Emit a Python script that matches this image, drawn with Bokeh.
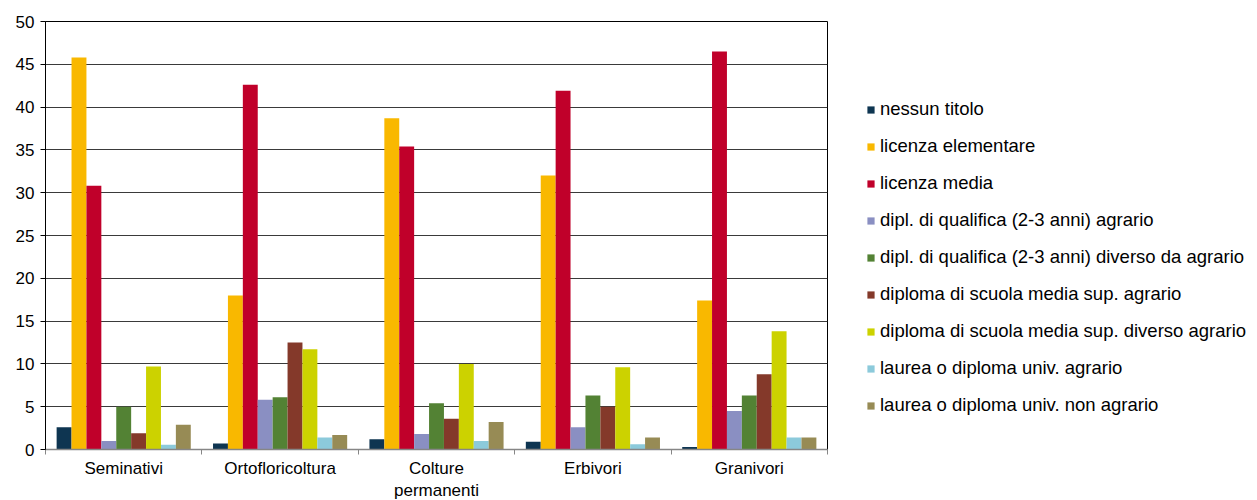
from bokeh.plotting import figure
from bokeh.models import ColumnDataSource, Legend, LegendItem, FixedTicker, Range1d
from bokeh.embed import file_html
from bokeh.resources import INLINE

categories = ["Seminativi", "Ortofloricoltura", "Colture\npermanenti", "Erbivori", "Granivori"]
series_names = [
    "nessun titolo",
    "licenza elementare",
    "licenza media",
    "dipl. di qualifica (2-3 anni) agrario",
    "dipl. di qualifica (2-3 anni) diverso da agrario",
    "diploma di scuola media sup. agrario",
    "diploma di scuola media sup. diverso agrario",
    "laurea o diploma univ. agrario",
    "laurea o diploma univ. non agrario",
]
nessun_titolo = [2.6, 0.7, 1.2, 0.9, 0.3]
licenza_elementare = [45.8, 18.0, 38.7, 32.0, 17.4]
licenza_media = [30.8, 42.6, 35.4, 41.9, 46.5]
dipl_qual_agrario = [1.0, 5.8, 1.8, 2.6, 4.5]
dipl_qual_diverso = [5.0, 6.1, 5.4, 6.3, 6.3]
dipl_sup_agrario = [1.9, 12.5, 3.6, 5.0, 8.8]
dipl_sup_diverso = [9.7, 11.7, 10.0, 9.6, 13.8]
laurea_agrario = [0.55, 1.4, 1.0, 0.6, 1.4]
laurea_non_agrario = [2.9, 1.7, 3.2, 1.4, 1.4]
values = [nessun_titolo, licenza_elementare, licenza_media, dipl_qual_agrario,
          dipl_qual_diverso, dipl_sup_agrario, dipl_sup_diverso, laurea_agrario,
          laurea_non_agrario]
colors = ["#0E3551", "#F9B800", "#C0002A", "#8A8FC2", "#538234",
          "#84392A", "#CCD200", "#8CCADB", "#978B55"]
y_ticks = [0, 5, 10, 15, 20, 25, 30, 35, 40, 45, 50]

FONT = "Liberation Sans"
n_cat = len(categories)
n_ser = len(series_names)
bar_w = 0.0953

p = figure(frame_width=782, frame_height=428, output_backend="svg", toolbar_location=None,
           x_range=Range1d(0, n_cat), y_range=Range1d(0, 50),
           min_border_left=45, min_border_right=10, min_border_top=21,
           min_border_bottom=51)
p.outline_line_color = "#000000"
p.outline_line_width = 1

items = []
for j in range(n_ser):
    xs = [i + 0.5 + (j - (n_ser - 1) / 2) * bar_w for i in range(n_cat)]
    src = ColumnDataSource(dict(x=xs, top=values[j]))
    r = p.vbar(x="x", top="top", width=bar_w, bottom=0, source=src,
               fill_color=colors[j], line_color=None)
    items.append(LegendItem(label=series_names[j], renderers=[r]))

# axes
p.xaxis.ticker = FixedTicker(ticks=[i + 0.5 for i in range(n_cat)],
                             minor_ticks=list(range(n_cat + 1)))
p.xaxis.major_label_overrides = {i + 0.5: categories[i] for i in range(n_cat)}
p.xaxis.major_tick_line_color = None
p.xaxis.major_tick_out = 0
p.xaxis.major_tick_in = 0
p.xaxis.minor_tick_line_color = "#868686"
p.xaxis.minor_tick_out = 5
p.xaxis.minor_tick_in = 0
p.xaxis.axis_line_color = "#868686"
p.xaxis.axis_line_width = 1.5
p.xaxis.major_label_text_font = FONT
p.xaxis.major_label_text_font_size = "17px"
p.xaxis.major_label_text_color = "#000000"
p.xaxis.major_label_standoff = 4

p.yaxis.ticker = FixedTicker(ticks=y_ticks)
p.yaxis.minor_tick_line_color = None
p.yaxis.major_tick_out = 5
p.yaxis.major_tick_in = 0
p.yaxis.major_tick_line_color = "#000000"
p.yaxis.axis_line_color = "#000000"
p.yaxis.major_label_text_font = FONT
p.yaxis.major_label_text_font_size = "17px"
p.yaxis.major_label_text_color = "#000000"
p.yaxis.major_label_standoff = 6

p.xgrid.grid_line_color = None
p.ygrid.grid_line_color = "#3a3a3a"
p.ygrid.grid_line_width = 1

legend = Legend(items=items, location=(39, 33), orientation="vertical",
                glyph_width=9, glyph_height=9, label_standoff=5,
                label_height=20, spacing=15, padding=0, margin=0,
                border_line_color=None, background_fill_alpha=0,
                label_text_font=FONT, label_text_font_size="18.5px",
                label_text_color="#000000")
p.add_layout(legend, "right")

open("out.html", "w").write(file_html(p, INLINE))
